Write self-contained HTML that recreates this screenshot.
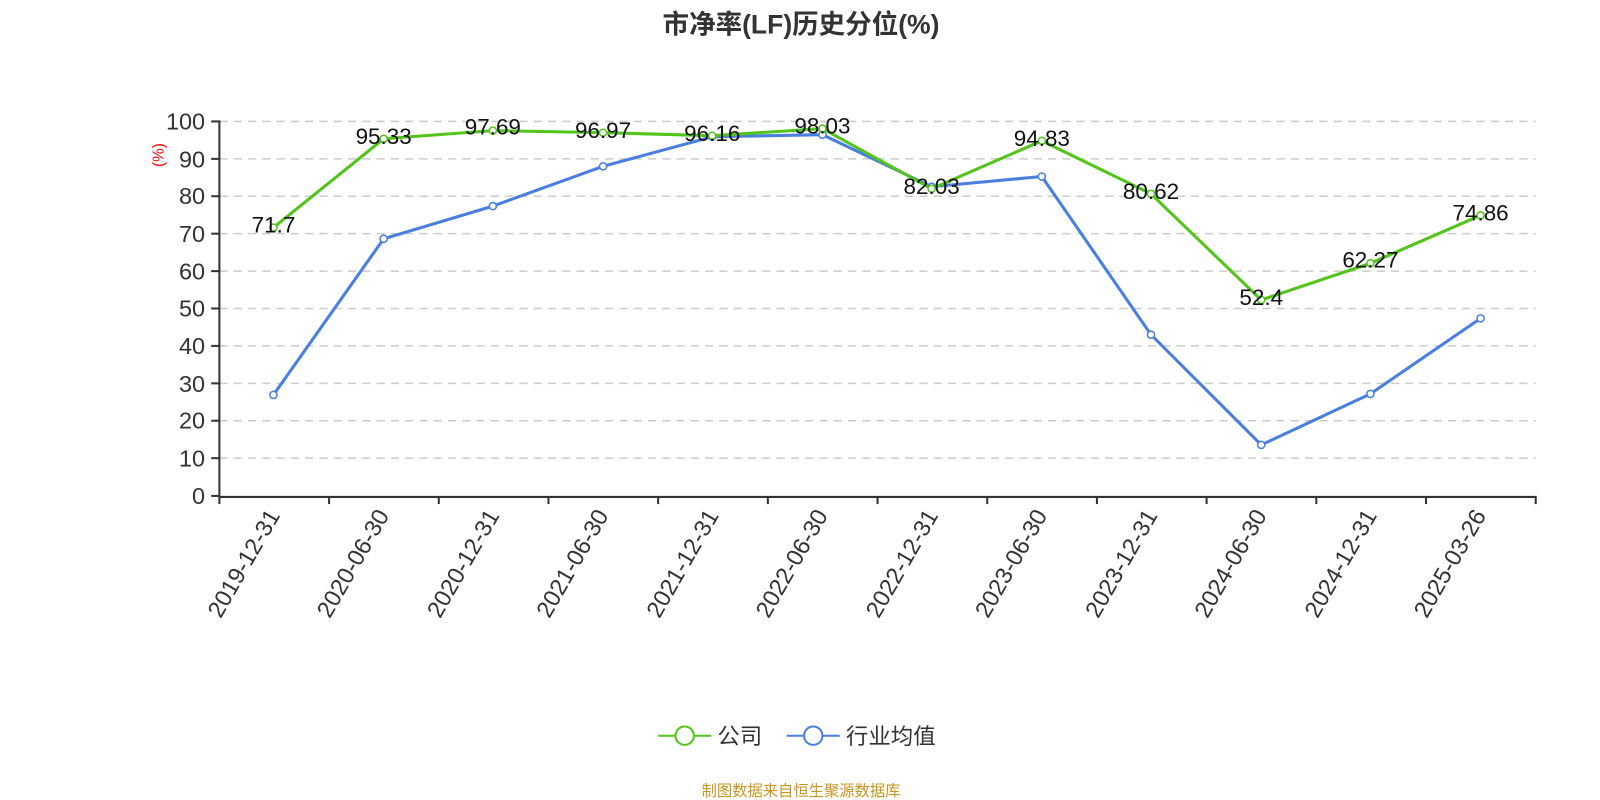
<!DOCTYPE html>
<html><head><meta charset="utf-8"><style>body{margin:0;background:#fff}svg{display:block}text{font-family:"Liberation Sans","Noto Sans CJK SC",sans-serif}</style></head>
<body>
<svg width="1600" height="800" xmlns="http://www.w3.org/2000/svg">
<g transform="scale(1.0204)">
<text x="785" y="33" text-anchor="middle" font-size="26" font-weight="bold" fill="#333">市净率(LF)历史分位(%)</text>
<g stroke="#ccc" stroke-dasharray="8,6" stroke-width="1.5">
<line x1="215" x2="1505" y1="119" y2="119"/><line x1="215" x2="1505" y1="155.7" y2="155.7"/><line x1="215" x2="1505" y1="192.3" y2="192.3"/><line x1="215" x2="1505" y1="229" y2="229"/><line x1="215" x2="1505" y1="265.7" y2="265.7"/><line x1="215" x2="1505" y1="302.3" y2="302.3"/><line x1="215" x2="1505" y1="339" y2="339"/><line x1="215" x2="1505" y1="375.7" y2="375.7"/><line x1="215" x2="1505" y1="412.3" y2="412.3"/><line x1="215" x2="1505" y1="449" y2="449"/>
</g>
<g stroke="#333" stroke-width="2">
<line x1="215" y1="118" x2="215" y2="487"/><line x1="215" y1="487" x2="1506" y2="487"/>
<line x1="207" x2="215" y1="119" y2="119"/><line x1="207" x2="215" y1="155.7" y2="155.7"/><line x1="207" x2="215" y1="192.3" y2="192.3"/><line x1="207" x2="215" y1="229" y2="229"/><line x1="207" x2="215" y1="265.7" y2="265.7"/><line x1="207" x2="215" y1="302.3" y2="302.3"/><line x1="207" x2="215" y1="339" y2="339"/><line x1="207" x2="215" y1="375.7" y2="375.7"/><line x1="207" x2="215" y1="412.3" y2="412.3"/><line x1="207" x2="215" y1="449" y2="449"/><line x1="207" x2="215" y1="486" y2="486"/>
<line x1="215" x2="215" y1="487" y2="494"/><line x1="322.5" x2="322.5" y1="487" y2="494"/><line x1="430" x2="430" y1="487" y2="494"/><line x1="537.5" x2="537.5" y1="487" y2="494"/><line x1="645" x2="645" y1="487" y2="494"/><line x1="752.5" x2="752.5" y1="487" y2="494"/><line x1="860" x2="860" y1="487" y2="494"/><line x1="967.5" x2="967.5" y1="487" y2="494"/><line x1="1075" x2="1075" y1="487" y2="494"/><line x1="1182.5" x2="1182.5" y1="487" y2="494"/><line x1="1290" x2="1290" y1="487" y2="494"/><line x1="1397.5" x2="1397.5" y1="487" y2="494"/><line x1="1505" x2="1505" y1="487" y2="494"/>
</g>
<g font-size="23" fill="#333" text-anchor="end">
<text x="201" y="127">100</text><text x="201" y="164">90</text><text x="201" y="200">80</text><text x="201" y="237">70</text><text x="201" y="274">60</text><text x="201" y="310">50</text><text x="201" y="347">40</text><text x="201" y="384">30</text><text x="201" y="420">20</text><text x="201" y="457">10</text><text x="201" y="494">0</text>
</g>
<text transform="translate(160,152) rotate(-90)" font-size="15" fill="red" text-anchor="middle">(%)</text>
<g font-size="23" fill="#333" text-anchor="end">
<text transform="translate(275,505) rotate(-60)">2019-12-31</text>
<text transform="translate(382,505) rotate(-60)">2020-06-30</text>
<text transform="translate(490,505) rotate(-60)">2020-12-31</text>
<text transform="translate(597,505) rotate(-60)">2021-06-30</text>
<text transform="translate(705,505) rotate(-60)">2021-12-31</text>
<text transform="translate(812,505) rotate(-60)">2022-06-30</text>
<text transform="translate(920,505) rotate(-60)">2022-12-31</text>
<text transform="translate(1027,505) rotate(-60)">2023-06-30</text>
<text transform="translate(1135,505) rotate(-60)">2023-12-31</text>
<text transform="translate(1242,505) rotate(-60)">2024-06-30</text>
<text transform="translate(1350,505) rotate(-60)">2024-12-31</text>
<text transform="translate(1457,505) rotate(-60)">2025-03-26</text>
</g>
<polyline fill="none" stroke="#4a7fe0" stroke-width="3" points="268,387 376,234 483,202 591,163 698,134 806,132 913,183 1021,173 1128,328 1236,436 1343,386 1451,312"/>
<g fill="#fff" stroke="#4a7fe0" stroke-width="1.5">
<circle cx="268" cy="387" r="3.5"/><circle cx="376" cy="234" r="3.5"/><circle cx="483" cy="202" r="3.5"/><circle cx="591" cy="163" r="3.5"/><circle cx="698" cy="134" r="3.5"/><circle cx="806" cy="132" r="3.5"/><circle cx="913" cy="183" r="3.5"/><circle cx="1021" cy="173" r="3.5"/><circle cx="1128" cy="328" r="3.5"/><circle cx="1236" cy="436" r="3.5"/><circle cx="1343" cy="386" r="3.5"/><circle cx="1451" cy="312" r="3.5"/>
</g>
<polyline fill="none" stroke="#52c41a" stroke-width="3" points="268,223 376,136 483,128 591,130 698,133 806,126 913,185 1021,138 1128,190 1236,294 1343,258 1451,211"/>
<g fill="#fff" stroke="#52c41a" stroke-width="1.5">
<circle cx="268" cy="223" r="3.5"/><circle cx="376" cy="136" r="3.5"/><circle cx="483" cy="128" r="3.5"/><circle cx="591" cy="130" r="3.5"/><circle cx="698" cy="133" r="3.5"/><circle cx="806" cy="126" r="3.5"/><circle cx="913" cy="185" r="3.5"/><circle cx="1021" cy="138" r="3.5"/><circle cx="1128" cy="190" r="3.5"/><circle cx="1236" cy="294" r="3.5"/><circle cx="1343" cy="258" r="3.5"/><circle cx="1451" cy="211" r="3.5"/>
</g>
<g font-size="22" fill="#111" text-anchor="middle">
<text x="268" y="228">71.7</text><text x="376" y="141">95.33</text><text x="483" y="132">97.69</text><text x="591" y="135">96.97</text><text x="698" y="138">96.16</text><text x="806" y="131">98.03</text><text x="913" y="190">82.03</text><text x="1021" y="143">94.83</text><text x="1128" y="195">80.62</text><text x="1236" y="299">52.4</text><text x="1343" y="262">62.27</text><text x="1451" y="216">74.86</text>
</g>
<line x1="645" x2="697" y1="721" y2="721" stroke="#52c41a" stroke-width="2"/><circle cx="671" cy="721" r="9" fill="#fff" stroke="#52c41a" stroke-width="2"/>
<text x="703" y="729" font-size="22" fill="#333">公司</text>
<line x1="771" x2="823" y1="721" y2="721" stroke="#4a7fe0" stroke-width="2"/><circle cx="797" cy="721" r="9" fill="#fff" stroke="#4a7fe0" stroke-width="2"/>
<text x="829" y="729" font-size="22" fill="#333">行业均值</text>
<text x="785" y="780" font-size="15" fill="#c8961e" text-anchor="middle">制图数据来自恒生聚源数据库</text>
</g>
</svg>
</body></html>
